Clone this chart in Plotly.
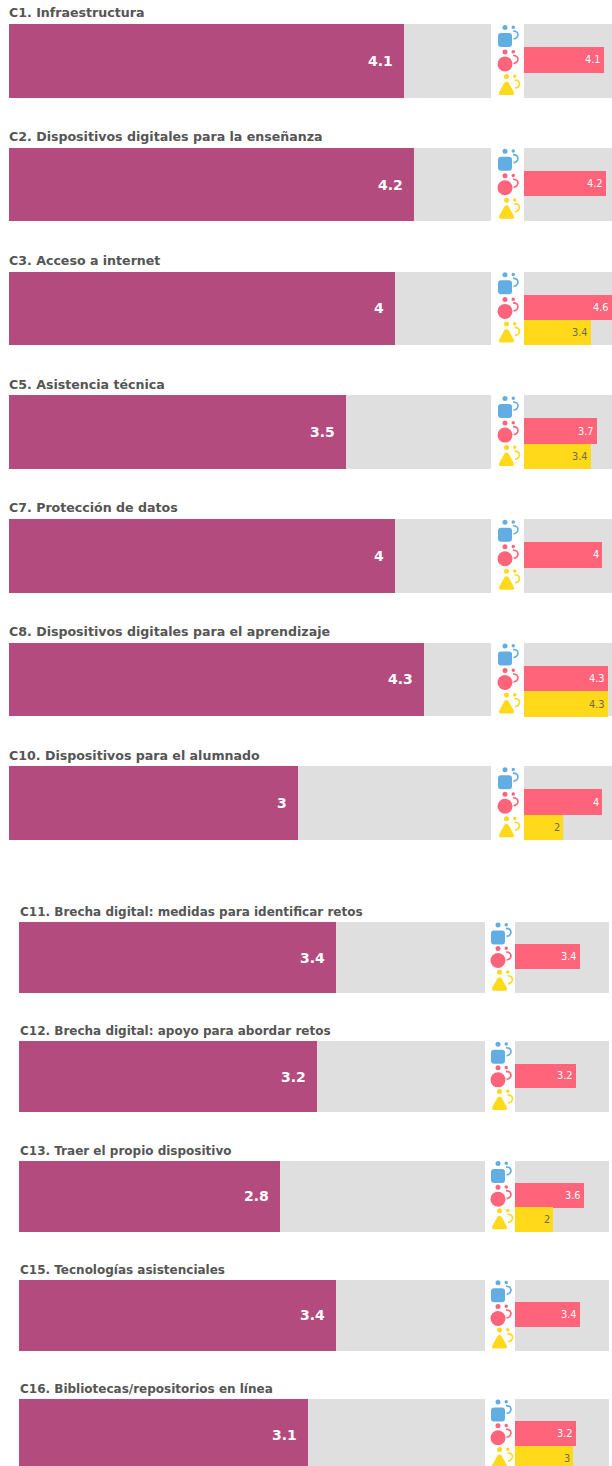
import plotly.graph_objects as go

# ---------- data ----------
top_labels = ["C1. Infraestructura", "C2. Dispositivos digitales para la enseñanza", "C3. Acceso a internet",
              "C5. Asistencia técnica", "C7. Protección de datos", "C8. Dispositivos digitales para el aprendizaje",
              "C10. Dispositivos para el alumnado"]
top_total = [4.1, 4.2, 4, 3.5, 4, 4.3, 3]
top_red = [4.1, 4.2, 4.6, 3.7, 4, 4.3, 4]
top_yellow = [None, None, 3.4, 3.4, None, 4.3, 2]

bottom_labels = ["C11. Brecha digital: medidas para identificar retos", "C12. Brecha digital: apoyo para abordar retos",
                 "C13. Traer el propio dispositivo", "C15. Tecnologías asistenciales",
                 "C16. Bibliotecas/repositorios en línea"]
bottom_total = [3.4, 3.2, 2.8, 3.4, 3.1]
bottom_red = [3.4, 3.2, 3.6, 3.4, 3.2]
bottom_yellow = [None, None, 2, None, 3]

SCALE_MAX = 5
PURPLE, GREY, RED, YELLOW, BLUE = "#B34B7F", "#DFDFDF", "#FF647A", "#FFD91A", "#62AEE3"
TITLE = "#555555"
W, H = 612, 1466
FONT = "DejaVu Sans"

# icon glyph outlines, in pixels around the anchor (up is positive)
ROUND_SQUARE = "M -4 3.5 H 4 Q 7 3.5 7 0.5 V -7.5 Q 7 -10.5 4 -10.5 H -4 Q -7 -10.5 -7 -7.5 V 0.5 Q -7 3.5 -4 3.5 Z"
TRIANGLE = "M 1.5 4 Q 2.5 4 3.5 3 L 8.5 -6 Q 10 -9.5 7 -9.5 H -4 Q -7 -9.5 -5.5 -6 L -0.5 3 Q 0.5 4 1.5 4 Z"

fig = go.Figure()
layout = dict(width=W, height=H, margin=dict(l=0, r=0, t=0, b=0), paper_bgcolor="white", plot_bgcolor="white",
              barmode="overlay", showlegend=False, bargap=0)
annotations, shapes = [], []


def hidden(**kw):
    return dict(visible=False, fixedrange=True, **kw)


def nm(letter, i):
    return letter if i == 1 else letter + str(i)


def group(g, labels, total, red, yellow, main_px, side_px, icon_px, y_px, yrange, side_max, title_shift, title_left,
          title_size):
    ax = [3 * g + 1, 3 * g + 2, 3 * g + 3]
    xn = [nm("x", a) for a in ax]
    yn = nm("y", ax[0])
    ydomain = [1 - y_px[1] / H, 1 - y_px[0] / H]
    layout[nm("xaxis", ax[0])] = hidden(domain=[main_px[0] / W, main_px[1] / W], range=[0, SCALE_MAX], anchor=yn)
    layout[nm("xaxis", ax[1])] = hidden(domain=[side_px[0] / W, side_px[1] / W], range=[0, side_max], anchor=yn)
    layout[nm("xaxis", ax[2])] = hidden(domain=[icon_px[0] / W, icon_px[1] / W], range=[0, icon_px[1] - icon_px[0]], anchor=yn)
    layout[nm("yaxis", ax[0])] = hidden(domain=ydomain, range=yrange, anchor=xn[0])

    rows = list(range(len(labels)))
    bw = 0.595
    third = bw / 3
    bg = [SCALE_MAX] * len(rows)
    for xa, vals, col in [(xn[0], bg, GREY), (xn[0], total, PURPLE), (xn[1], bg, GREY)]:
        fig.add_trace(go.Bar(x=vals, y=rows, xaxis=xa, yaxis=yn, orientation="h", width=bw,
                             marker=dict(color=col, line=dict(width=0)), hoverinfo="skip"))
    for vals, col, off in [(red, RED, -0.008), (yellow, YELLOW, third - 0.002)]:
        fig.add_trace(go.Bar(x=vals, y=[r + off for r in rows], xaxis=xn[1], yaxis=yn, orientation="h",
                             width=third + 0.008, marker=dict(color=col, line=dict(width=0)), hoverinfo="skip"))

    for r in rows:
        annotations.append(dict(x=0, y=r, xref=xn[0] + " domain", yref=yn, text="<b>%s</b>" % labels[r],
                                showarrow=False, xanchor="left", yanchor="middle", yshift=title_shift,
                                xshift=title_left, font=dict(family=FONT, size=title_size, color=TITLE)))
        annotations.append(dict(x=total[r], y=r, xref=xn[0], yref=yn, text="<b>%g</b>" % total[r], showarrow=False,
                                xanchor="right", yanchor="middle", xshift=-9,
                                font=dict(family=FONT, size=14, color="white")))
        for vals, off, col in [(red, -0.008, "white"), (yellow, third, "#6b6b4a")]:
            if vals[r] is not None:
                annotations.append(dict(x=min(vals[r], side_max), y=r + off, xref=xn[1], yref=yn,
                                        text="%g" % vals[r], showarrow=False, xanchor="right", yanchor="middle",
                                        xshift=-1, font=dict(family=FONT, size=9.8, color=col)))

    # icons: main glyph, head dot, small hooked figure
    cx = 10
    for off, col, glyph, dx in [(-third, BLUE, ROUND_SQUARE, 0), (0, RED, None, 0), (third, YELLOW, TRIANGLE, 1.5)]:
        for r in rows:
            common = dict(xref=xn[2], yref=yn, xsizemode="pixel", ysizemode="pixel", xanchor=cx, yanchor=r + off,
                          layer="above", line=dict(width=0))
            if glyph:
                shapes.append(dict(type="path", fillcolor=col, path=glyph, **common))
            else:
                shapes.append(dict(type="circle", fillcolor=col, x0=-7.5, x1=7.5, y0=-10.5, y1=4.5, **common))
            shapes.append(dict(type="circle", fillcolor=col, x0=-2.5 + dx, x1=2.5 + dx, y0=6.5, y1=11.5, **common))
            shapes.append(dict(type="circle", fillcolor=col, x0=6.5 + dx, x1=10 + dx, y0=7.5, y1=11, **common))
            shapes.append(dict(type="path", fillcolor="rgba(0,0,0,0)",
                               path="M %g 5.5 Q %g 5.5 %g 1.5 Q %g -2 %g -2.5" % (8 + dx, 13 + dx, 13 + dx, 12.5 + dx, 8.5 + dx),
                               **{**common, "line": dict(width=1.6, color=col)}))


group(0, top_labels, top_total, top_red, top_yellow, (9, 491), (524, 612), (495, 523), (0, 880),
      [6.621, -0.493], 4.49, 48, -2, 12.6)
group(1, bottom_labels, bottom_total, bottom_red, bottom_yellow, (19, 485), (515, 609), (488, 514), (880, 1466),
      [4.262, -0.65], 4.9, 45.5, -1, 12)

layout["annotations"] = annotations
layout["shapes"] = shapes
fig.update_layout(**layout)
fig.write_html("out.html", post_script="document.body.style.margin='0';", config={"displayModeBar": False})
